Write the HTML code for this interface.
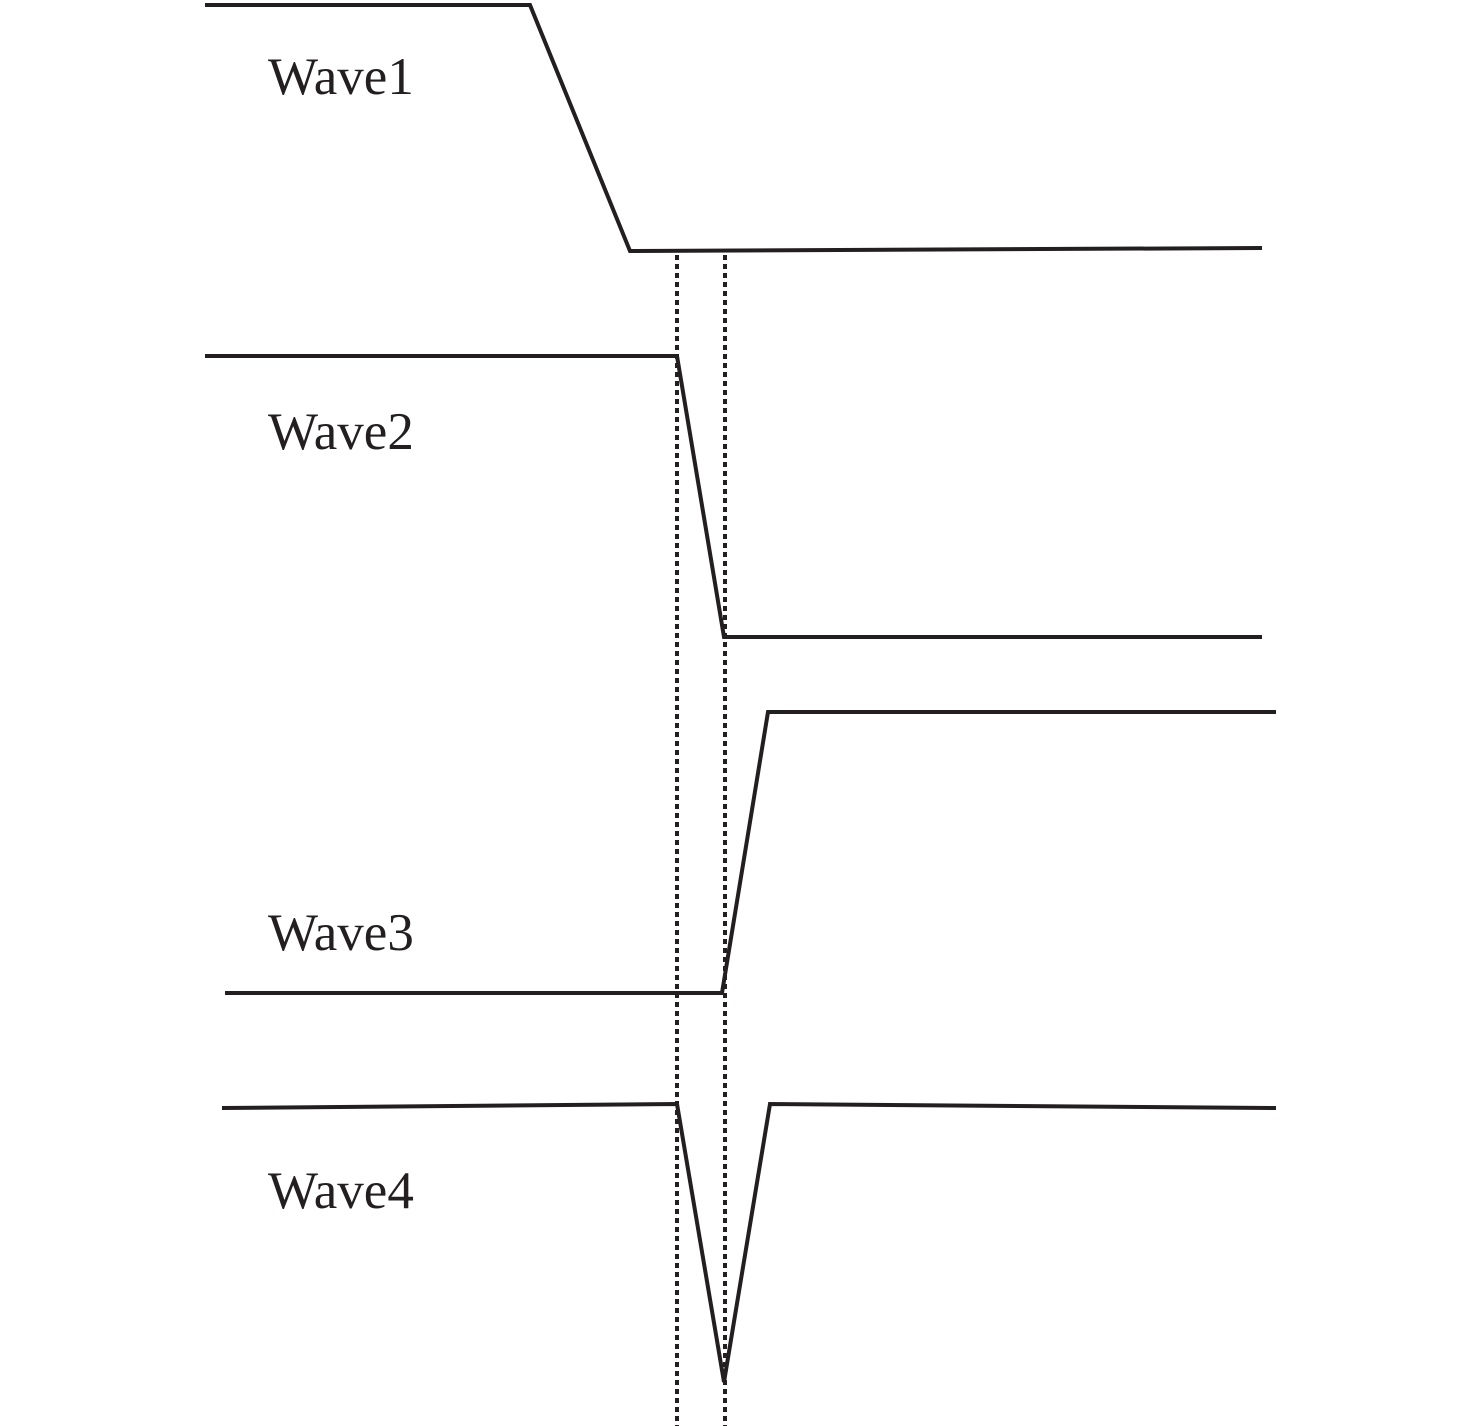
<!DOCTYPE html>
<html><head><meta charset="utf-8"><style>html,body{margin:0;padding:0;background:#fff;}svg{display:block;}</style></head>
<body>
<svg width="1476" height="1426" viewBox="0 0 1476 1426" xmlns="http://www.w3.org/2000/svg">
<g fill="none" stroke="#231f20" stroke-width="4" stroke-linejoin="miter">
<polyline points="205,5 530,5 630,251 1262,248"/>
<polyline points="205,356 677,356 724,637 1262,637"/>
<polyline points="225,993 722,993 768,712 1276,712"/>
<polyline points="222,1108 677,1104 724,1382 770,1104 1276,1108"/>
</g>
<g stroke="#231f20" stroke-width="4" stroke-dasharray="5 4">
<line x1="677" y1="255" x2="677" y2="1426"/>
<line x1="725" y1="255" x2="725" y2="1426"/>
</g>
<g font-family="Liberation Serif, serif" font-size="53" fill="#231f20">
<text x="268" y="94">Wave1</text>
<text x="268" y="449">Wave2</text>
<text x="268" y="950">Wave3</text>
<text x="268" y="1208">Wave4</text>
</g>
</svg>
</body></html>
